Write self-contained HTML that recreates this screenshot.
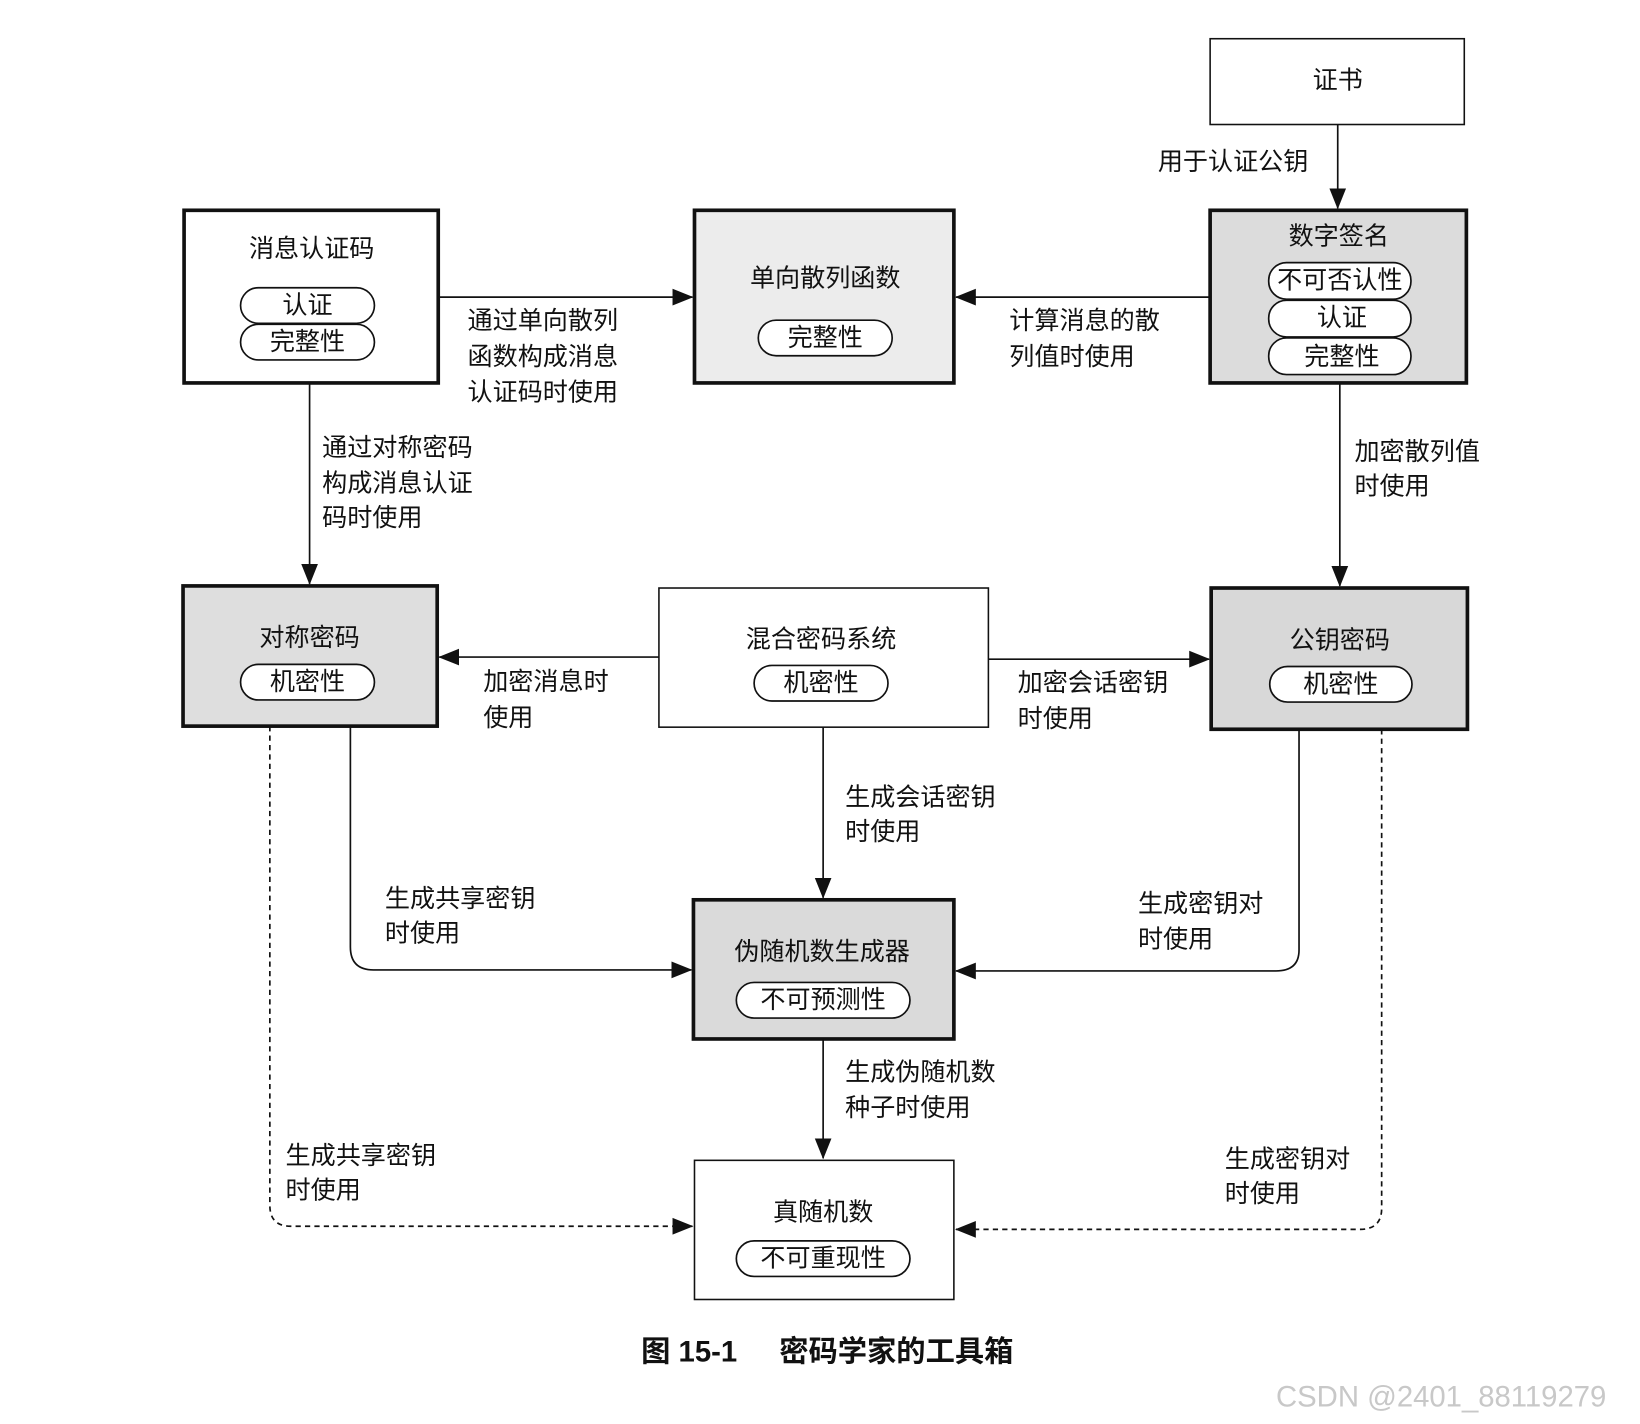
<!DOCTYPE html>
<html><head><meta charset="utf-8"><style>
html,body{margin:0;padding:0;background:#fff}
svg{display:block}
text{font-family:"Liberation Sans","Noto Sans CJK SC",sans-serif;font-size:24px;fill:#111;dominant-baseline:central}
.c{text-anchor:middle}
</style></head><body>
<svg width="1640" height="1424" viewBox="0 0 1568 1361" preserveAspectRatio="none" xmlns="http://www.w3.org/2000/svg">
<defs>
<marker id="a" markerWidth="10" markerHeight="10" refX="9" refY="5" orient="auto" markerUnits="userSpaceOnUse" viewBox="0 0 10 10">
<path d="M0,0 L10,5 L0,10 z" fill="#111"/></marker>
<marker id="A" markerWidth="20" markerHeight="20" refX="19" refY="8" orient="auto" markerUnits="userSpaceOnUse" viewBox="0 0 20 16">
<path d="M0,0 L20,8 L0,16 z" fill="#111"/></marker>
</defs>
<g fill="none" stroke="#111" stroke-width="1.6">
<!-- boxes -->
<rect x="1157" y="37" width="243" height="82" fill="#fff" stroke-width="1.5"/>
<rect x="176" y="201" width="243" height="165" fill="#fff" stroke-width="3.5"/>
<rect x="664" y="201" width="248" height="165" fill="#ececec" stroke-width="3.5"/>
<rect x="1157" y="201" width="245" height="165" fill="#dcdcdc" stroke-width="3.5"/>
<rect x="175" y="560" width="243" height="134" fill="#dedede" stroke-width="3.5"/>
<rect x="630" y="562" width="315" height="133" fill="#fff" stroke-width="1.5"/>
<rect x="1158" y="562" width="245" height="135" fill="#d8d8d8" stroke-width="3.5"/>
<rect x="663" y="860" width="249" height="133" fill="#dadada" stroke-width="3.5"/>
<rect x="664" y="1109" width="248" height="133" fill="#fff" stroke-width="1.5"/>
<!-- pills -->
<rect x="230" y="275" width="128" height="34" rx="17" fill="#fff"/>
<rect x="230" y="310" width="128" height="34" rx="17" fill="#fff"/>
<rect x="725" y="306" width="128" height="34" rx="17" fill="#fff"/>
<rect x="1213" y="251" width="136" height="35" rx="17" fill="#fff"/>
<rect x="1213" y="287" width="136" height="35" rx="17" fill="#fff"/>
<rect x="1213" y="323" width="136" height="35" rx="17" fill="#fff"/>
<rect x="230" y="635" width="128" height="34" rx="17" fill="#fff"/>
<rect x="721" y="636" width="128" height="34" rx="17" fill="#fff"/>
<rect x="1214" y="637" width="136" height="34" rx="17" fill="#fff"/>
<rect x="704" y="939" width="166" height="34" rx="17" fill="#fff"/>
<rect x="704" y="1186" width="166" height="34" rx="17" fill="#fff"/>
<!-- connectors -->
<path d="M1279,119 V199" marker-end="url(#A)"/>
<path d="M419,284 H662" marker-end="url(#A)"/>
<path d="M1157,284 H914" marker-end="url(#A)"/>
<path d="M296,366 V558" marker-end="url(#A)"/>
<path d="M1281,366 V560" marker-end="url(#A)"/>
<path d="M630,628 H420" marker-end="url(#A)"/>
<path d="M945,630 H1156" marker-end="url(#A)"/>
<path d="M787,695 V858" marker-end="url(#A)"/>
<path d="M335,694 V905 Q335,927 357,927 H661" marker-end="url(#A)"/>
<path d="M1242,697 V908 Q1242,928 1220,928 H914" marker-end="url(#A)"/>
<path d="M787,993 V1107" marker-end="url(#A)"/>
<path d="M258,694 V1152 Q258,1172 278,1172 H662" stroke-dasharray="5,4" marker-end="url(#A)"/>
<path d="M1321,697 V1155 Q1321,1175 1300,1175 H914" stroke-dasharray="5,4" marker-end="url(#A)"/>
</g>
<!-- node text -->
<text class="c" x="1279" y="77">证书</text>
<text class="c" x="298" y="238">消息认证码</text>
<text class="c" x="294" y="292">认证</text>
<text class="c" x="294" y="327">完整性</text>
<text class="c" x="789" y="266">单向散列函数</text>
<text class="c" x="789" y="323">完整性</text>
<text class="c" x="1280" y="226">数字签名</text>
<text class="c" x="1281" y="268">不可否认性</text>
<text class="c" x="1283" y="304">认证</text>
<text class="c" x="1283" y="341">完整性</text>
<text class="c" x="296" y="610">对称密码</text>
<text class="c" x="294" y="652">机密性</text>
<text class="c" x="785" y="611">混合密码系统</text>
<text class="c" x="785" y="653">机密性</text>
<text class="c" x="1281" y="612">公钥密码</text>
<text class="c" x="1282" y="654">机密性</text>
<text class="c" x="786" y="910">伪随机数生成器</text>
<text class="c" x="787" y="956">不可预测性</text>
<text class="c" x="787" y="1159">真随机数</text>
<text class="c" x="787" y="1203">不可重现性</text>
<!-- labels -->
<text x="1107" y="155">用于认证公钥</text>
<text x="447" y="307">通过单向散列</text>
<text x="447" y="341">函数构成消息</text>
<text x="447" y="375">认证码时使用</text>
<text x="965" y="307">计算消息的散</text>
<text x="965" y="341">列值时使用</text>
<text x="308" y="428">通过对称密码</text>
<text x="308" y="462">构成消息认证</text>
<text x="308" y="495">码时使用</text>
<text x="1295" y="432">加密散列值</text>
<text x="1295" y="465">时使用</text>
<text x="462" y="652">加密消息时</text>
<text x="462" y="686">使用</text>
<text x="973" y="653">加密会话密钥</text>
<text x="973" y="687">时使用</text>
<text x="808" y="762">生成会话密钥</text>
<text x="808" y="795">时使用</text>
<text x="368" y="859">生成共享密钥</text>
<text x="368" y="892">时使用</text>
<text x="1088" y="864">生成密钥对</text>
<text x="1088" y="898">时使用</text>
<text x="808" y="1025">生成伪随机数</text>
<text x="808" y="1059">种子时使用</text>
<text x="273" y="1105">生成共享密钥</text>
<text x="273" y="1138">时使用</text>
<text x="1171" y="1108">生成密钥对</text>
<text x="1171" y="1141">时使用</text>
<text x="613" y="1292" style="font-size:28px;font-weight:bold">图 15-1</text>
<text x="745" y="1292" style="font-size:28px;font-weight:bold">密码学家的工具箱</text>
<text x="1220" y="1335" style="font-size:28px;fill:#c8c8c8">CSDN @2401_88119279</text>
</svg>
</body></html>
